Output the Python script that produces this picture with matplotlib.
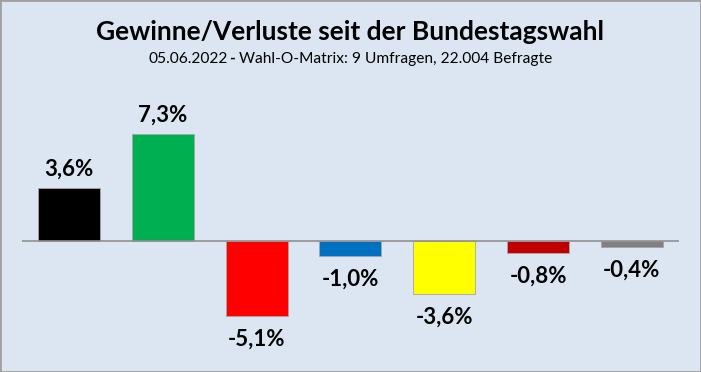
import matplotlib
matplotlib.use("Agg")
import matplotlib.pyplot as plt
from matplotlib.patches import Rectangle

# Daten
parteien = ["Union", "Grüne", "SPD", "AfD", "FDP", "Linke", "Sonstige"]
werte = [3.6, 7.3, -5.1, -1.0, -3.6, -0.8, -0.4]
farben = ["#000000", "#00b050", "#ff0000", "#0070c0", "#ffff00", "#c00000", "#808080"]
labels = ["3,6%", "7,3%", "-5,1%", "-1,0%", "-3,6%", "-0,8%", "-0,4%"]

titel = "Gewinne/Verluste seit der Bundestagswahl"
untertitel = ["05.06.2022", "-", "Wahl-O-Matrix: 9 Umfragen, 22.004 Befragte"]

plt.rcParams["font.family"] = ["Lato", "DejaVu Sans"]
bg = "#dce6f2"

fig = plt.figure(figsize=(7.01, 3.72), dpi=100, facecolor=bg)
ax = fig.add_axes([0.0314, 0.036, 0.937, 0.711])
ax.set_facecolor(bg)

x = range(len(werte))
ax.bar(x, werte, width=0.66, color=farben, edgecolor="#a6a6a6", linewidth=0.6, zorder=2)
ax.axhline(0, color="#909090", lw=1.2, zorder=3)
ax.set_xlim(-0.5, 6.5)
ax.set_ylim(-8, 10)
ax.axis("off")

# Datenbeschriftung
for i, (v, t) in enumerate(zip(werte, labels)):
    if v >= 0:
        ax.annotate(t, (i, v), xytext=(0, 6), textcoords="offset points",
                    ha="center", va="bottom", fontsize=16, fontweight="bold")
    else:
        ax.annotate(t, (i, v), xytext=(0, -9.5), textcoords="offset points",
                    ha="center", va="top", fontsize=16, fontweight="bold")

fig.text(0.5, 0.913, titel, ha="center", va="center", fontsize=19, fontweight="bold")

# Untertitel in Stücken (Bindestrich fett)
fig.canvas.draw()
r = fig.canvas.get_renderer()
teile = []
for i, s in enumerate(untertitel):
    teile.append(fig.text(0, 0.842, s, ha="left", va="center", fontsize=11.2,
                          fontweight="bold" if i == 1 else "normal"))
breiten = [t.get_window_extent(r).width for t in teile]
luecken = [1, 4, 0]
gesamt = sum(breiten) + sum(luecken)
start = (fig.bbox.width - gesamt) / 2
for t, b, l in zip(teile, breiten, luecken):
    t.set_x(start / fig.bbox.width)
    start += b + l

fig.patches.append(Rectangle((0, 0), 1, 1, transform=fig.transFigure, fill=False,
                             edgecolor="#a0a0a0", linewidth=2))

fig.savefig("out.png", dpi=100, facecolor=bg)
